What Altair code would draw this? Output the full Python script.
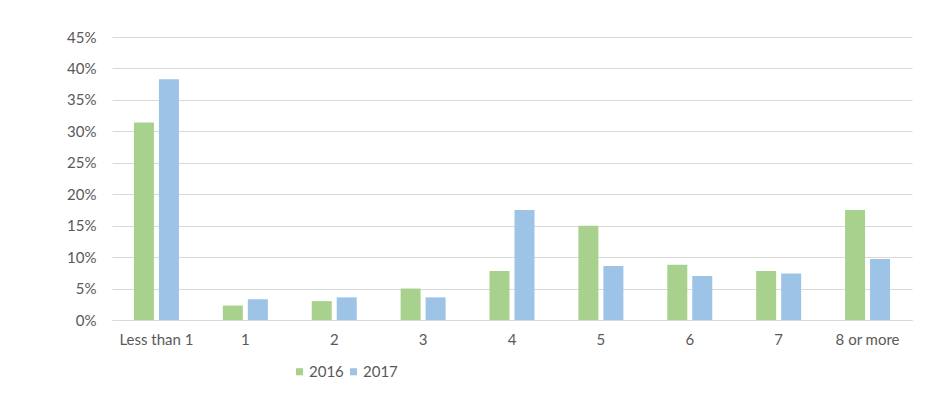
import altair as alt
import pandas as pd

categories = ["Less than 1", "1", "2", "3", "4", "5", "6", "7", "8 or more"]
v2016 = [31.4, 2.3, 3.0, 5.0, 7.8, 15.0, 8.8, 7.8, 17.5]
v2017 = [38.3, 3.3, 3.6, 3.6, 17.5, 8.6, 7.0, 7.4, 9.7]
years = ["2016", "2017"]
colors = ["#A9D18E", "#9DC3E6"]

rows = []
for c, a, b in zip(categories, v2016, v2017):
    rows.append({"cat": c, "year": "2016", "val": a / 100})
    rows.append({"cat": c, "year": "2017", "val": b / 100})
df = pd.DataFrame(rows)

FONT = "Lato, sans-serif"

chart = alt.Chart(df).mark_bar().encode(
    x=alt.X("cat:N", sort=categories, title=None,
            scale=alt.Scale(paddingInner=0, paddingOuter=0),
            axis=alt.Axis(labelAngle=0, labelPadding=12, ticks=False,
                          domainColor="#D9D9D9", labelFontSize=15,
                          labelColor="#595959", labelFont=FONT)),
    xOffset=alt.XOffset("year:N", scale=alt.Scale(paddingInner=0.2, paddingOuter=0.878)),
    y=alt.Y("val:Q", title=None,
            scale=alt.Scale(domain=[0, 0.45]),
            axis=alt.Axis(format=".0%", values=[i * 0.05 for i in range(10)],
                          domain=False, ticks=False, labelPadding=16,
                          gridColor="#D9D9D9", gridWidth=1.2,
                          labelFontSize=15, labelColor="#595959", labelFont=FONT)),
    color=alt.Color("year:N", scale=alt.Scale(domain=years, range=colors),
                    legend=alt.Legend(title=None, orient="none", legendX=180, legendY=327,
                                      direction="horizontal", symbolType="square",
                                      symbolSize=50, symbolStrokeWidth=0,
                                      labelFontSize=15, labelColor="#595959",
                                      labelFont=FONT, columnPadding=2, labelOffset=2)),
).properties(
    width=800, height=283,
    autosize=alt.AutoSizeParams(type="none"),
    padding={"left": 104, "top": 29, "right": 16, "bottom": 60},
).configure_view(stroke=None)

chart.save("out.html", embed_options={"renderer": "svg", "actions": False})
